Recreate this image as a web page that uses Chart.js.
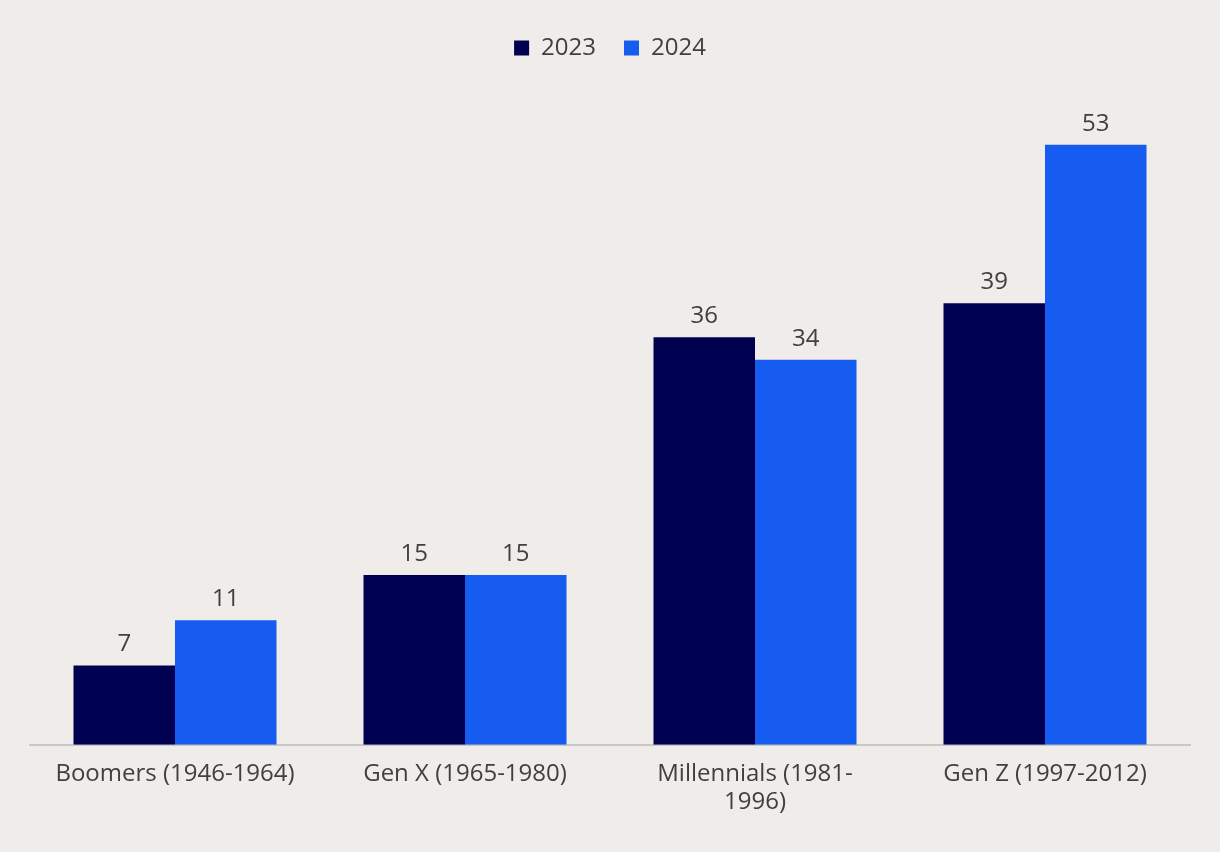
<!DOCTYPE html>
<html><head><meta charset="utf-8">
<script src="https://cdn.jsdelivr.net/npm/chart.js@4"></script>
<style>html,body{margin:0;padding:0;background:#f0ecea;}#wrap{width:1220px;height:852px;position:relative;}</style>
</head><body><div id="wrap"><canvas id="c"></canvas></div>
<script>
const categories = ["Boomers (1946-1964)", "Gen X (1965-1980)", ["Millennials (1981-", "1996)"], "Gen Z (1997-2012)"];
const seriesNames = ["2023", "2024"];
const values2023 = [7, 15, 36, 39];
const values2024 = [11, 15, 34, 53];

const FONT = "'Open Sans', 'Noto Sans', sans-serif";
const labelPlugin = {
  id: 'barLabels',
  afterDatasetsDraw(chart) {
    const ctx = chart.ctx;
    ctx.save();
    ctx.font = "24px " + FONT;
    ctx.fillStyle = "#404040";
    ctx.textAlign = "center";
    ctx.textBaseline = "bottom";
    chart.data.datasets.forEach((ds, i) => {
      chart.getDatasetMeta(i).data.forEach((bar, j) => {
        ctx.fillText(String(ds.data[j]), bar.x, bar.y - 9);
      });
    });
    ctx.restore();
  }
};

new Chart(document.getElementById('c'), {
  type: 'bar',
  data: {
    labels: categories,
    datasets: [
      { label: seriesNames[0], data: values2023, backgroundColor: "#000050" },
      { label: seriesNames[1], data: values2024, backgroundColor: "#175cf0" }
    ]
  },
  options: {
    responsive: true,
    maintainAspectRatio: false,
    animation: false,
    layout: { padding: { left: 30, right: 30, top: 8, bottom: 28 } },
    datasets: { bar: { categoryPercentage: 0.7, barPercentage: 1.0 } },
    plugins: {
      legend: {
        position: 'top',
        labels: { font: { family: FONT, size: 24 }, color: "#404040", boxWidth: 15, boxHeight: 15, padding: 28 }
      },
      tooltip: { enabled: false }
    },
    scales: {
      x: {
        grid: { display: false },
        border: { color: "#c8c8c8", width: 2 },
        ticks: { font: { family: FONT, size: 24, lineHeight: 1.15 }, color: "#404040", maxRotation: 0, padding: 8 }
      },
      y: { display: false, min: 0, max: 59.6 }
    }
  },
  plugins: [labelPlugin]
});
</script></body></html>
